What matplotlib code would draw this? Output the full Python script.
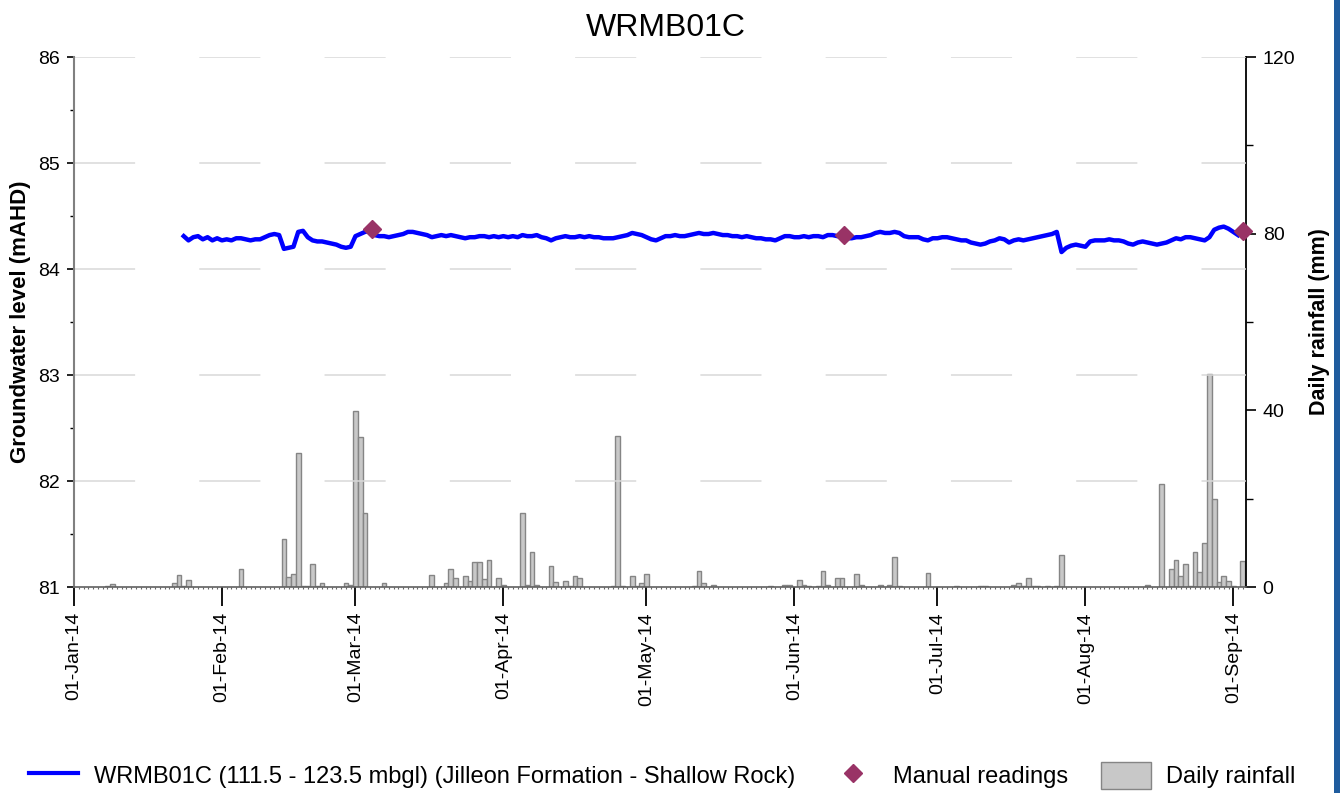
import numpy as np
import pandas as pd
import matplotlib
matplotlib.use("Agg")
import matplotlib.pyplot as plt
import matplotlib.dates as mdates
from matplotlib.patches import Rectangle, Patch
from matplotlib.lines import Line2D

plt.rcParams['font.family'] = ['Liberation Sans', 'DejaVu Sans']

# daily logger level (mAHD), starting 24-Jan-14
gw_start = "2014-01-24"
gw_jan = [84.31, 84.27, 84.30, 84.31, 84.28, 84.30, 84.27, 84.29]
gw_feb = [84.27, 84.28, 84.27, 84.29, 84.29, 84.28, 84.27, 84.28, 84.28, 84.30,
          84.32, 84.33, 84.32, 84.19, 84.20, 84.21, 84.35, 84.36, 84.30, 84.27,
          84.26, 84.26, 84.25, 84.24, 84.23, 84.21, 84.20, 84.21]
gw_mar = [84.31, 84.33, 84.35, 84.36, 84.32, 84.31, 84.31, 84.30, 84.31, 84.32,
          84.33, 84.35, 84.35, 84.34, 84.33, 84.32, 84.30, 84.31, 84.32, 84.31,
          84.32, 84.31, 84.30, 84.29, 84.30, 84.30, 84.31, 84.31, 84.30, 84.31,
          84.30]
gw_apr = [84.31, 84.30, 84.31, 84.30, 84.32, 84.31, 84.31, 84.32, 84.30, 84.29,
          84.27, 84.29, 84.30, 84.31, 84.30, 84.30, 84.31, 84.30, 84.31, 84.30,
          84.30, 84.29, 84.29, 84.29, 84.30, 84.31, 84.32, 84.34, 84.33, 84.32]
gw_may = [84.30, 84.28, 84.27, 84.29, 84.31, 84.31, 84.32, 84.31, 84.31, 84.32,
          84.33, 84.34, 84.33, 84.33, 84.34, 84.33, 84.32, 84.32, 84.31, 84.31,
          84.30, 84.31, 84.30, 84.29, 84.29, 84.28, 84.28, 84.27, 84.29, 84.31,
          84.31]
gw_jun = [84.30, 84.30, 84.31, 84.30, 84.31, 84.31, 84.30, 84.32, 84.32, 84.31,
          84.32, 84.29, 84.29, 84.30, 84.30, 84.31, 84.32, 84.34, 84.35, 84.34,
          84.34, 84.35, 84.34, 84.31, 84.30, 84.30, 84.30, 84.28, 84.27, 84.29]
gw_jul = [84.29, 84.30, 84.30, 84.29, 84.28, 84.27, 84.27, 84.25, 84.24, 84.23,
          84.24, 84.26, 84.27, 84.29, 84.28, 84.25, 84.27, 84.28, 84.27, 84.28,
          84.29, 84.30, 84.31, 84.32, 84.33, 84.35, 84.16, 84.20, 84.22, 84.23,
          84.22]
gw_aug = [84.21, 84.26, 84.27, 84.27, 84.27, 84.28, 84.27, 84.27, 84.26, 84.24,
          84.23, 84.25, 84.26, 84.25, 84.24, 84.23, 84.24, 84.25, 84.27, 84.29,
          84.28, 84.30, 84.30, 84.29, 84.28, 84.27, 84.30, 84.37, 84.39, 84.40,
          84.38]
gw_sep = [84.35, 84.32]

# manual dip readings
manual_dates = ["2014-03-04 10:00", "2014-06-11 10:00", "2014-09-03 03:00"]
manual_level = [84.38, 84.32, 84.36]

# daily rainfall (mm), days without rain omitted
rain_dates = ["2014-01-08", "2014-01-09", "2014-01-22", "2014-01-23", "2014-01-24",
              "2014-01-25", "2014-02-05", "2014-02-14", "2014-02-15", "2014-02-16",
              "2014-02-17", "2014-02-18", "2014-02-19", "2014-02-20", "2014-02-21",
              "2014-02-22", "2014-02-27", "2014-02-28", "2014-03-01", "2014-03-02",
              "2014-03-03", "2014-03-07", "2014-03-17", "2014-03-20", "2014-03-21",
              "2014-03-22", "2014-03-24", "2014-03-25", "2014-03-26", "2014-03-27",
              "2014-03-28", "2014-03-29", "2014-03-31", "2014-04-01", "2014-04-05",
              "2014-04-06", "2014-04-07", "2014-04-08", "2014-04-11", "2014-04-12",
              "2014-04-14", "2014-04-15", "2014-04-16", "2014-04-17", "2014-04-24",
              "2014-04-25", "2014-04-26", "2014-04-28", "2014-04-29", "2014-04-30",
              "2014-05-01", "2014-05-11", "2014-05-12", "2014-05-13", "2014-05-15",
              "2014-05-27", "2014-05-30", "2014-05-31", "2014-06-02", "2014-06-03",
              "2014-06-04", "2014-06-06", "2014-06-07", "2014-06-08", "2014-06-10",
              "2014-06-11", "2014-06-14", "2014-06-15", "2014-06-19", "2014-06-21",
              "2014-06-22", "2014-06-23", "2014-06-29", "2014-07-05", "2014-07-10",
              "2014-07-11", "2014-07-17", "2014-07-18", "2014-07-19", "2014-07-20",
              "2014-07-21", "2014-07-22", "2014-07-24", "2014-07-26", "2014-07-27",
              "2014-08-14", "2014-08-17", "2014-08-19", "2014-08-20", "2014-08-21",
              "2014-08-22", "2014-08-23", "2014-08-24", "2014-08-25", "2014-08-26",
              "2014-08-27", "2014-08-28", "2014-08-29", "2014-08-30", "2014-08-31",
              "2014-09-01", "2014-09-03"]
rain_mm = [0.3, 0.75, 1.0, 2.8, 0.3,
           1.6, 4.1, 10.9, 2.35, 2.9,
           30.4, 0.3, 0.3, 5.1, 0.3,
           0.85, 1.0, 0.5, 39.8, 33.9,
           16.7, 1.0, 2.8, 0.8, 4.1,
           2.0, 2.4, 1.45, 5.75, 5.75,
           1.9, 6.05, 2.1, 0.5, 16.75,
           0.5, 7.9, 0.5, 4.75, 1.2,
           1.45, 0.3, 2.4, 2.1, 0.2,
           34.1, 0.3, 2.4, 0.2, 1.0,
           3.0, 0.3, 3.6, 1.0, 0.5,
           0.2, 0.5, 0.4, 1.65, 0.5,
           0.3, 0.3, 3.6, 0.5, 2.0,
           2.0, 2.95, 0.5, 0.45, 0.45,
           6.9, 0.2, 3.2, 0.2, 0.2,
           0.2, 0.45, 0.8, 0.3, 2.0,
           0.3, 0.3, 0.3, 0.3, 7.2,
           0.35, 23.3, 4.15, 6.2, 2.4,
           5.1, 0.3, 8.0, 3.5, 10.05,
           48.2, 20.0, 1.2, 2.4, 1.3,
           0.3, 5.8]

well_name = "WRMB01C"
well_label = "WRMB01C (111.5 - 123.5 mbgl) (Jilleon Formation - Shallow Rock)"
grid_levels = [82, 83, 84, 85, 86]

gw_level = gw_jan + gw_feb + gw_mar + gw_apr + gw_may + gw_jun + gw_jul + gw_aug + gw_sep
gw_dates = pd.date_range(gw_start, periods=len(gw_level), freq="D")

line_col = "#0000FF"
manual_col = "#993366"
bar_face = "#C8C8C8"
bar_edge = "#858585"
grid_col = "#D8D8D8"

fig = plt.figure(figsize=(13.4, 7.93), dpi=100)
ax = fig.add_axes([74 / 1340, 1 - 587 / 793, (1246 - 74) / 1340, (587 - 57) / 793])
ax2 = ax.twinx()

# rainfall on the right-hand axis, sitting behind the water level
ax2.bar(pd.to_datetime(rain_dates), rain_mm, width=1.0, align="center",
        color=bar_face, edgecolor=bar_edge, linewidth=1.0, zorder=2)
ax2.set_ylim(0, 120)
ax2.set_yticks([0, 40, 80, 120])
ax2.set_yticks([20, 60, 100], minor=True)
ax2.set_ylabel("Daily rainfall (mm)", fontsize=15.5, fontweight="bold", labelpad=10)
ax2.tick_params(axis="y", which="major", labelsize=14, length=7, width=1.2, pad=5, colors="black")
ax2.tick_params(axis="y", which="minor", length=5, width=1.0)

ax.set_zorder(ax2.get_zorder() + 1)
ax.patch.set_visible(False)

# long-dash horizontal gridlines at whole metres
for lvl in grid_levels:
    ax.axhline(lvl, color=grid_col, linewidth=1.1, dashes=(40, 42), zorder=0)

ax.plot(gw_dates, gw_level, color=line_col, linewidth=3.2, zorder=4)
ax.plot(pd.to_datetime(manual_dates), manual_level, linestyle="none", marker="D",
        markersize=9.5, color=manual_col, zorder=5, clip_on=False)

ax.set_ylim(81, 86)
ax.set_yticks([81, 82, 83, 84, 85, 86])
ax.set_yticks(np.arange(81.5, 86, 1.0), minor=True)
ax.set_xlim(pd.Timestamp("2014-01-01"), pd.Timestamp("2014-09-03 16:00"))

ax.xaxis.set_major_locator(mdates.MonthLocator())
ax.xaxis.set_major_formatter(mdates.DateFormatter("%d-%b-%y"))
ax.xaxis.set_minor_locator(mdates.DayLocator())
ax.tick_params(axis="x", which="major", labelsize=14, length=14, width=1.3,
               pad=4, labelrotation=90, colors="black")
ax.tick_params(axis="x", which="minor", length=1.5, width=0.8, color="#666666")
ax.tick_params(axis="y", which="major", labelsize=14, length=5, width=1.2, pad=5)
ax.tick_params(axis="y", which="minor", length=3, width=1.0)

ax.set_ylabel("Groundwater level (mAHD)", fontsize=16, fontweight="bold", labelpad=5)
ax.set_title(well_name, fontsize=23, pad=15, x=0.505)

for a in (ax, ax2):
    a.spines["top"].set_visible(False)
ax.spines["left"].set_color("#808080")
ax.spines["left"].set_linewidth(1.5)
ax.spines["bottom"].set_color("#606060")
ax.spines["bottom"].set_linewidth(1.2)
ax.spines["right"].set_visible(False)
ax2.spines["left"].set_visible(False)
ax2.spines["bottom"].set_visible(False)
ax2.spines["right"].set_color("black")
ax2.spines["right"].set_linewidth(1.3)

handles = [
    Line2D([], [], color=line_col, linewidth=3.0),
    Line2D([], [], linestyle="none", marker="D", markersize=9.5, color=manual_col),
    Patch(facecolor=bar_face, edgecolor=bar_edge, linewidth=1.0),
]
fig.legend(handles, [well_label, "Manual readings", "Daily rainfall"],
           loc="center", bbox_to_anchor=(0.494, 0.022), ncol=3, frameon=False,
           fontsize=17, handlelength=2.1, handleheight=1.35, handletextpad=0.65,
           columnspacing=1.4)

# blue frame strip down the right edge
fig.patches.append(Rectangle((1334 / 1340, 0), 6 / 1340, 1, transform=fig.transFigure,
                             facecolor="#1F5C9E", edgecolor="none"))

fig.savefig("out.png", dpi=100)
